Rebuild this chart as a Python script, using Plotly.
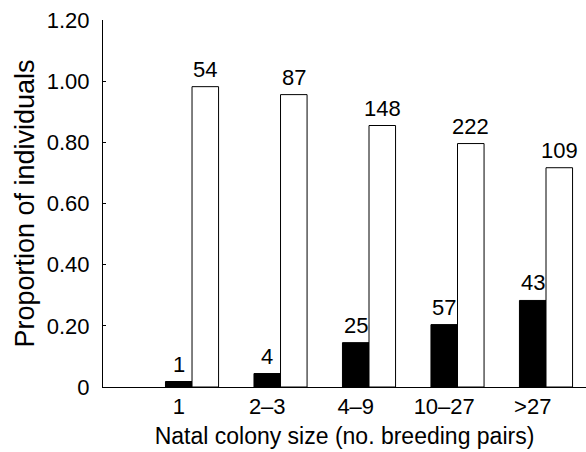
import plotly.graph_objects as go

categories = ["1", "2\u20133", "4\u20139", "10\u201327", ">27"]
black_props = [0.018, 0.044, 0.145, 0.204, 0.283]
white_props = [0.982, 0.956, 0.855, 0.796, 0.717]
black_counts = [1, 4, 25, 57, 43]
white_counts = [54, 87, 148, 222, 109]
y_ticks = [0, 0.2, 0.4, 0.6, 0.8, 1.0, 1.2]
y_ticktext = ["0", "0.20", "0.40", "0.60", "0.80", "1.00", "1.20"]

FONT = "Liberation Sans, Arial, sans-serif"
pos = list(range(len(categories)))
bar_w = 0.3

fig = go.Figure()
fig.add_trace(go.Bar(
    x=pos, y=black_props,
    marker=dict(color="black", line=dict(color="black", width=1)),
    showlegend=False,
))
fig.add_trace(go.Bar(
    x=pos, y=white_props,
    marker=dict(color="white", line=dict(color="black", width=1)),
    showlegend=False,
))

annotations = []
for p, v, c in zip(pos, black_props, black_counts):
    annotations.append(dict(x=p - bar_w / 2, y=v, text=str(c), showarrow=False,
                            xref="x", yref="y", yanchor="bottom", yshift=3,
                            font=dict(size=22, family=FONT, color="black")))
for p, v, c in zip(pos, white_props, white_counts):
    annotations.append(dict(x=p + bar_w / 2, y=v, text=str(c), showarrow=False,
                            xref="x", yref="y", yanchor="bottom", yshift=3,
                            font=dict(size=22, family=FONT, color="black")))

fig.update_layout(
    width=586, height=452,
    margin=dict(l=103, r=0, t=20, b=65),
    barmode="group", bargap=0.4, bargroupgap=0,
    plot_bgcolor="white", paper_bgcolor="white",
    font=dict(family=FONT, size=22, color="black"),
    annotations=annotations,
)
fig.update_xaxes(
    range=[-1.006, 4.452],
    tickvals=[p - bar_w / 2 for p in pos], ticktext=categories,
    showline=True, linecolor="black", linewidth=1,
    showgrid=False, zeroline=False, ticks="",
    title=dict(text="Natal colony size (no. breeding pairs)", standoff=9,
               font=dict(size=23)),
    tickfont=dict(size=22),
)
fig.update_yaxes(
    range=[0, 1.2], tickvals=y_ticks, ticktext=y_ticktext,
    showline=True, linecolor="black", linewidth=1,
    showgrid=False, zeroline=False, ticks="inside", ticklen=3, tickcolor="black",
    title=dict(text="Proportion of individuals", standoff=4, font=dict(size=27)),
    tickfont=dict(size=22), ticklabelstandoff=8,
)

fig.write_html("out.html")
